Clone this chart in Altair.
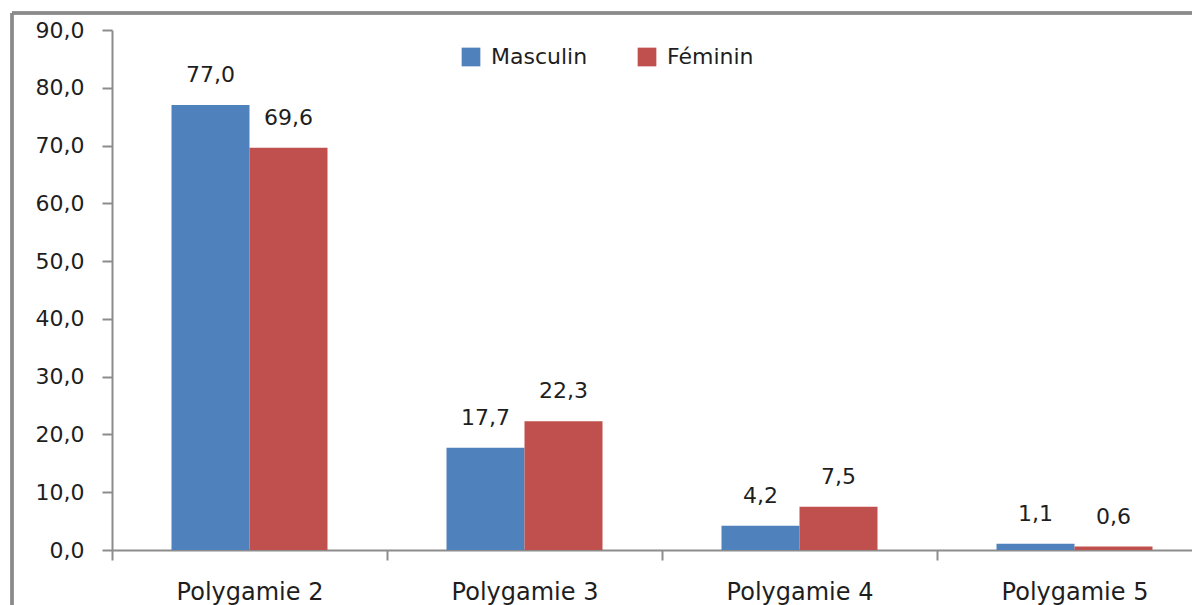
import altair as alt
import pandas as pd

categories = ["Polygamie 2", "Polygamie 3", "Polygamie 4", "Polygamie 5"]
series = ["Masculin", "Féminin"]
masculin = [77.0, 17.7, 4.2, 1.1]
feminin = [69.6, 22.3, 7.5, 0.6]
colors = ["#4F81BD", "#C0504D"]
y_ticks = [0, 10, 20, 30, 40, 50, 60, 70, 80, 90]

rows = []
for c, m, f in zip(categories, masculin, feminin):
    rows.append({"cat": c, "sexe": series[0], "v": m})
    rows.append({"cat": c, "sexe": series[1], "v": f})
df = pd.DataFrame(rows)

FONT = "DejaVu Sans"
FS = 22
AXIS_COLOR = "#8c8c8c"
TXT = "#1e1e1e"

x = alt.X("cat:N", sort=categories, title=None,
          scale=alt.Scale(paddingInner=0, paddingOuter=0),
          axis=alt.Axis(labelAngle=0, labelFont=FONT, labelFontSize=24, labelColor=TXT,
                        domainColor=AXIS_COLOR, domainWidth=2, tickColor=AXIS_COLOR,
                        tickWidth=2, tickSize=10, tickBand="extent", labelPadding=20))
y = alt.Y("v:Q", title=None,
          scale=alt.Scale(domain=[0, 90], nice=False),
          axis=alt.Axis(values=y_ticks, grid=False, labelFont=FONT, labelFontSize=FS,
                        labelColor=TXT, domainColor=AXIS_COLOR, domainWidth=2,
                        tickColor=AXIS_COLOR, tickWidth=2, tickSize=10, labelPadding=18,
                        labelExpr="replace(format(datum.value, '.1f'), '.', ',')"))
xoff = alt.XOffset("sexe:N", sort=series, scale=alt.Scale(paddingInner=0, paddingOuter=0.763))
color = alt.Color("sexe:N", sort=series,
                  scale=alt.Scale(domain=series, range=colors),
                  legend=alt.Legend(title=None, orient="none", legendX=348, legendY=16,
                                    direction="horizontal", symbolType="square",
                                    symbolSize=350, symbolStrokeWidth=0,
                                    labelFont=FONT, labelFontSize=FS, labelColor=TXT,
                                    columnPadding=48, labelOffset=9))

bars = alt.Chart(df).mark_bar().encode(x=x, y=y, xOffset=xoff, color=color)

labels = alt.Chart(df).transform_calculate(
    lab="replace(format(datum.v, '.1f'), '.', ',')"
).mark_text(baseline="alphabetic", dy=-23, font=FONT, fontSize=FS, color=TXT).encode(
    x=x, y=y, xOffset=xoff, text="lab:N")

frame_top = alt.Chart(df).mark_rule(color="#8a8a8a", strokeWidth=2.5).encode(
    x=alt.value(-100), x2=alt.value(1200), y=alt.value(-17))
frame_left = alt.Chart(df).mark_rule(color="#8a8a8a", strokeWidth=2.5).encode(
    x=alt.value(-100), y=alt.value(-17), y2=alt.value(700))

chart = alt.layer(frame_top, frame_left, bars, labels).properties(
    width=1100, height=520,
    autosize=alt.AutoSizeParams(type="none"),
    padding={"left": 104, "top": 22, "right": -20, "bottom": 55},
).configure_view(stroke=None)

chart.save("out.html", embed_options={"renderer": "svg", "actions": False})
